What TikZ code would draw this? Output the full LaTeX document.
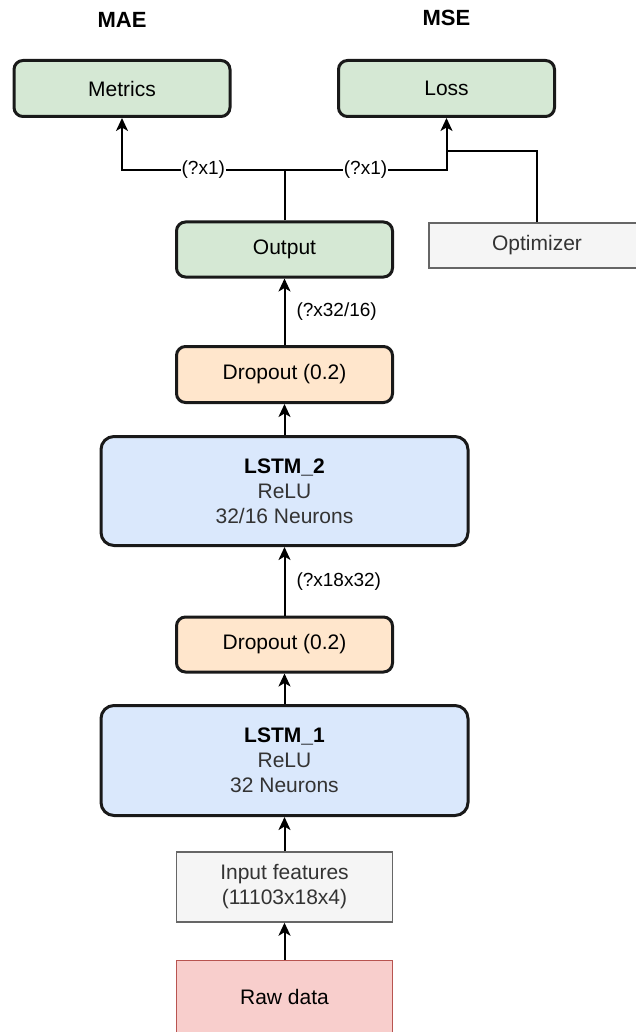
\documentclass[tikz,border=0pt]{standalone}
\usepackage{fontspec}
\setmainfont{Liberation Sans}
\usetikzlibrary{arrows.meta}
\definecolor{gfill}{HTML}{D5E8D4}
\definecolor{ofill}{HTML}{FFE6CC}
\definecolor{bfill}{HTML}{DAE8FC}
\definecolor{greyfill}{HTML}{F5F5F5}
\definecolor{greydraw}{HTML}{666666}
\definecolor{greytext}{HTML}{333333}
\definecolor{rfill}{HTML}{F8CECC}
\definecolor{rdraw}{HTML}{B85450}
\tikzset{
  basebox/.style={draw=black!90, rounded corners=9pt, line width=3pt, align=center, inner sep=0pt,
    font=\fontsize{21}{25}\selectfont},
  greenbox/.style={basebox, fill=gfill, minimum width=216pt, minimum height=56pt},
  dropbox/.style={basebox, fill=ofill, minimum width=216pt, minimum height=56pt},
  lstmbox/.style={basebox, fill=bfill, rounded corners=13pt, minimum width=367pt, minimum height=109pt,
    font=\fontsize{21}{25}\selectfont},
  plainbox/.style={draw=greydraw, fill=greyfill, line width=1.4pt, align=center, inner sep=0pt,
    text=greytext, font=\fontsize{21}{25}\selectfont, minimum width=216pt},
  rawbox/.style={draw=rdraw, fill=rfill, line width=1.4pt, align=center, inner sep=0pt,
    font=\fontsize{21}{25}\selectfont, minimum width=216pt, minimum height=72pt},
  headtext/.style={font=\bfseries\fontsize{22}{26}\selectfont, inner sep=0pt},
  conn/.style={line width=2pt},
  arr/.style={line width=2pt, -{Stealth[length=13pt,width=12pt,inset=3.5pt]}},
  elab/.style={font=\fontsize{19}{23}\selectfont, inner sep=1pt},
  onlab/.style={elab, fill=white},
}
\begin{document}
\begin{tikzpicture}[x=1pt,y=-1pt]
\useasboundingbox (0,0) rectangle (635,1032);

\node[headtext] (mae) at (122,20) {MAE};
\node[headtext] (mse) at (446.5,18) {MSE};

\node[greenbox] (metrics) at (122,88.5) {Metrics};
\node[greenbox] (loss) at (446.5,88.5) {Loss};
\node[greenbox, minimum height=55pt] (output) at (284.5,249.5) {Output};
\node[plainbox, minimum height=45pt] (optimizer) at (537,245.5) {Optimizer};

\node[dropbox] (drop2) at (284.5,374.5) {Dropout (0.2)};
\node[lstmbox] (lstm2) at (284.5,491) {\textbf{LSTM\_2}\\\textcolor{greytext}{ReLU}\\\textcolor{greytext}{32/16 Neurons}};
\node[dropbox, minimum height=55pt] (drop1) at (284.5,644.5) {Dropout (0.2)};
\node[lstmbox, minimum height=110pt] (lstm1) at (284.5,760.5) {\textbf{LSTM\_1}\\\textcolor{greytext}{ReLU}\\\textcolor{greytext}{32 Neurons}};
\node[plainbox, minimum height=70pt] (input) at (284.5,887) {Input features\\(11103x18x4)};
\node[rawbox] (raw) at (284.5,996.5) {Raw data};

\coordinate (j) at (284.5,170);
\coordinate (k) at (446.5,151);

\draw[conn] (output.north) -- (j);
\draw[arr] (j) -- node[onlab]{(?x1)} (metrics.south |- j) -- (metrics.south);
\draw[arr] (j) -- node[onlab]{(?x1)} (loss.south |- j) -- (loss.south);
\draw[conn] (optimizer.north) |- (k);

\draw[arr] (drop2.north) -- node[elab, anchor=west, pos=0.5, xshift=10pt]{(?x32/16)} (output.south);
\draw[arr] (lstm2.north) -- (drop2.south);
\draw[arr] (drop1.north) -- node[elab, anchor=west, pos=0.5, xshift=10pt]{(?x18x32)} (lstm2.south);
\draw[arr] (lstm1.north) -- (drop1.south);
\draw[arr] (input.north) -- (lstm1.south);
\draw[arr] (raw.north) -- (input.south);
\end{tikzpicture}
\end{document}
